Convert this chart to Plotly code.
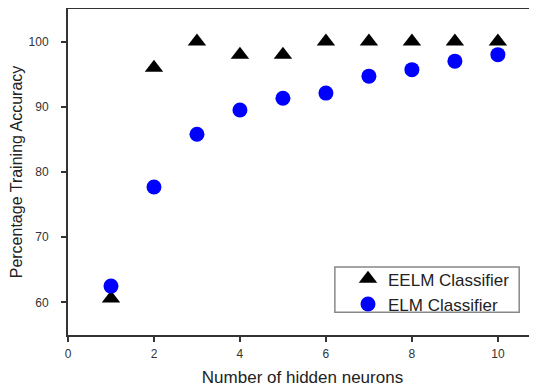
import plotly.graph_objects as go

neurons = [1, 2, 3, 4, 5, 6, 7, 8, 9, 10]
eelm_acc = [60.6, 96.0, 100.0, 98.0, 98.0, 100.0, 100.0, 100.0, 100.0, 100.0]
elm_acc = [62.5, 77.7, 85.8, 89.5, 91.3, 92.1, 94.7, 95.7, 97.0, 98.0]

x_ticks = [0, 2, 4, 6, 8, 10]
y_ticks = [60, 70, 80, 90, 100]

FONT = "Liberation Sans, Arial, sans-serif"

fig = go.Figure()
fig.add_trace(go.Scatter(
    x=neurons, y=eelm_acc, mode="markers", name="EELM Classifier",
    marker=dict(symbol="triangle-up", size=16, color="black"),
))
fig.add_trace(go.Scatter(
    x=neurons, y=elm_acc, mode="markers", name="ELM Classifier",
    marker=dict(symbol="circle", size=15, color="#0000ff"),
))

axis_common = dict(
    showgrid=False, zeroline=False, showline=True, linecolor="#333333",
    linewidth=2, ticks="outside", ticklen=5, tickwidth=1.5, tickcolor="#333333",
    tickfont=dict(family=FONT, size=12, color="#333333"),
    automargin=False,
)

# page body has an 8px default margin, so the figure is 8px smaller
fig.update_layout(
    width=529, height=379,
    margin=dict(l=60, r=0, t=1, b=52),
    paper_bgcolor="white", plot_bgcolor="white",
    showlegend=True,
    legend=dict(
        x=0.597, y=0.226, xanchor="left", yanchor="top",
        bgcolor="rgba(0,0,0,0)", borderwidth=0,
        font=dict(family=FONT, size=17, color="#222222"),
        itemsizing="trace", tracegroupgap=0,
    ),
    xaxis=dict(
        range=[0, 10.91], tickvals=x_ticks, mirror=True, ticklabelstandoff=2,
        title=dict(text="Number of hidden neurons", standoff=12,
                   font=dict(family=FONT, size=17, color="#222222")),
        **axis_common,
    ),
    yaxis=dict(
        range=[55, 105], tickvals=y_ticks, ticklabelstandoff=10,
        title=dict(text="Percentage Training Accuracy", standoff=3,
                   font=dict(family=FONT, size=16, color="#222222")),
        **axis_common,
    ),
    shapes=[dict(
        type="rect", xref="paper", yref="paper",
        x0=0.569, x1=0.962, y0=0.07, y1=0.2086,
        line=dict(color="#888888", width=1.5), fillcolor="rgba(0,0,0,0)",
    )],
)

fig.write_html("out.html")
